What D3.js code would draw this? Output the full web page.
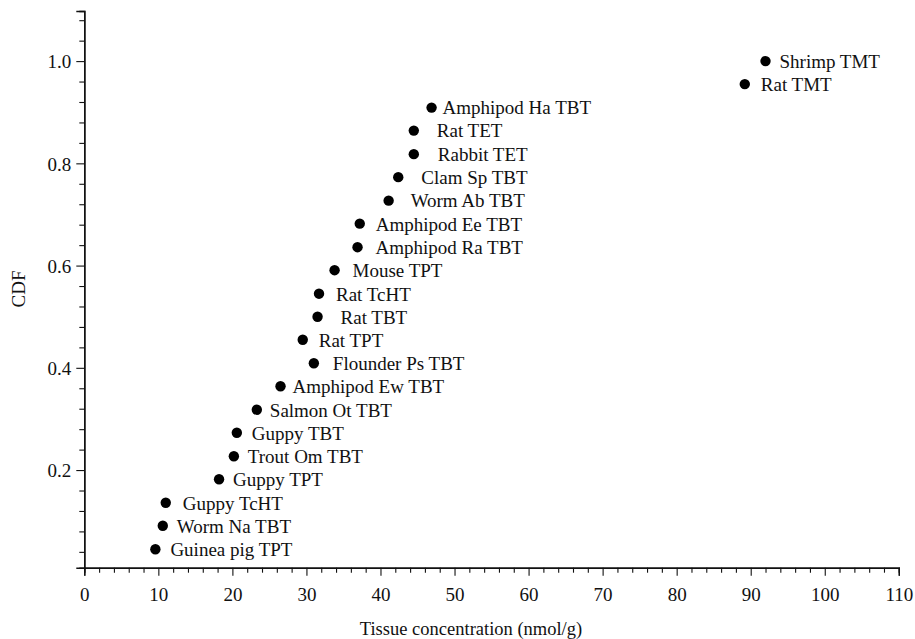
<!DOCTYPE html>
<html><head><meta charset="utf-8">
<script src="https://cdn.jsdelivr.net/npm/d3@7"></script>
<style>
html,body{margin:0;padding:0;background:#fff;}
svg{display:block;}
text{font-family:"Liberation Serif","DejaVu Serif",serif;fill:#111;}
</style></head>
<body><svg id="chart" width="915" height="639"></svg>
<script>
const species = ["Guinea pig TPT","Worm Na TBT","Guppy TcHT","Guppy TPT","Trout Om TBT","Guppy TBT","Salmon Ot TBT","Amphipod Ew TBT","Flounder Ps TBT","Rat TPT","Rat TBT","Rat TcHT","Mouse TPT","Amphipod Ra TBT","Amphipod Ee TBT","Worm Ab TBT","Clam Sp TBT","Rabbit TET","Rat TET","Amphipod Ha TBT","Rat TMT","Shrimp TMT"];
const concentration = [9.6,10.6,11.0,18.2,20.2,20.6,23.3,26.5,31.0,29.5,31.5,31.7,33.8,36.9,37.2,41.1,42.4,44.5,44.5,46.9,89.2,92.0];
const cdf = [0.045,0.091,0.136,0.182,0.227,0.273,0.318,0.364,0.409,0.455,0.500,0.545,0.591,0.636,0.682,0.727,0.773,0.818,0.864,0.909,0.955,1.000];
const xTicks = [0,10,20,30,40,50,60,70,80,90,100,110];
const yTicks = [0.2,0.4,0.6,0.8,1.0];
// label horizontal nudges (styling, px)
const labelNudge = [15,14,17,14,14,15,13,12,19,16,23,17,18,18,16,22,23,24,23,11,16,14];

const svg = d3.select("#chart");
const x = d3.scaleLinear().domain([0,110]).range([84.3,898.8]);
const y = d3.scaleLinear().domain([0.009,1.098]).range([567.7,11]);

const xMinor = d3.range(0,111,2).filter(v=>v%10!==0);
const yMinor = d3.range(1,28).map(i=>+(i*0.04).toFixed(2)).filter(v=>Math.abs(v*5-Math.round(v*5))>1e-6);

// X axis
const gx = svg.append("g").attr("transform",`translate(0,${y.range()[0]})`);
gx.call(d3.axisBottom(x).tickValues(xTicks).tickSize(8).tickPadding(12).tickFormat(d3.format("d")));
gx.append("g").call(d3.axisBottom(x).tickValues(xMinor).tickSize(5).tickFormat(""));
// Y axis
const gy = svg.append("g").attr("transform",`translate(${x.range()[0]},0)`);
gy.call(d3.axisLeft(y).tickValues(yTicks).tickSize(8).tickPadding(5).tickFormat(d3.format(".1f")));
gy.append("g").call(d3.axisLeft(y).tickValues(yMinor).tickSize(5).tickFormat(""));

svg.selectAll(".domain").attr("stroke","#111").attr("stroke-width",1.4);
svg.selectAll(".tick line").attr("stroke","#111").attr("stroke-width",1.1);
svg.selectAll(".tick text").style("font-family",'"Liberation Serif",serif').style("font-size","19px").attr("fill","#111");
gy.selectAll(".tick text").attr("dy","0.36em");

// Axis titles
svg.append("text").attr("x",471).attr("y",635).attr("text-anchor","middle").style("font-size","18.5px").text("Tissue concentration (nmol/g)");
svg.append("text").attr("transform","translate(25,289) rotate(-90)").attr("text-anchor","middle").style("font-size","19px").text("CDF");

// Points
const data = species.map((s,i)=>({s, c:concentration[i], p:cdf[i], dx:labelNudge[i]}));
svg.append("g").selectAll("circle").data(data).join("circle")
  .attr("cx",d=>x(d.c)).attr("cy",d=>y(d.p)).attr("r",5.2).attr("fill","#000");
svg.append("g").selectAll("text").data(data).join("text")
  .attr("x",d=>x(d.c)+d.dx).attr("y",d=>y(d.p)).attr("dy","0.36em")
  .style("font-size","19px").text(d=>d.s);
</script></body></html>
